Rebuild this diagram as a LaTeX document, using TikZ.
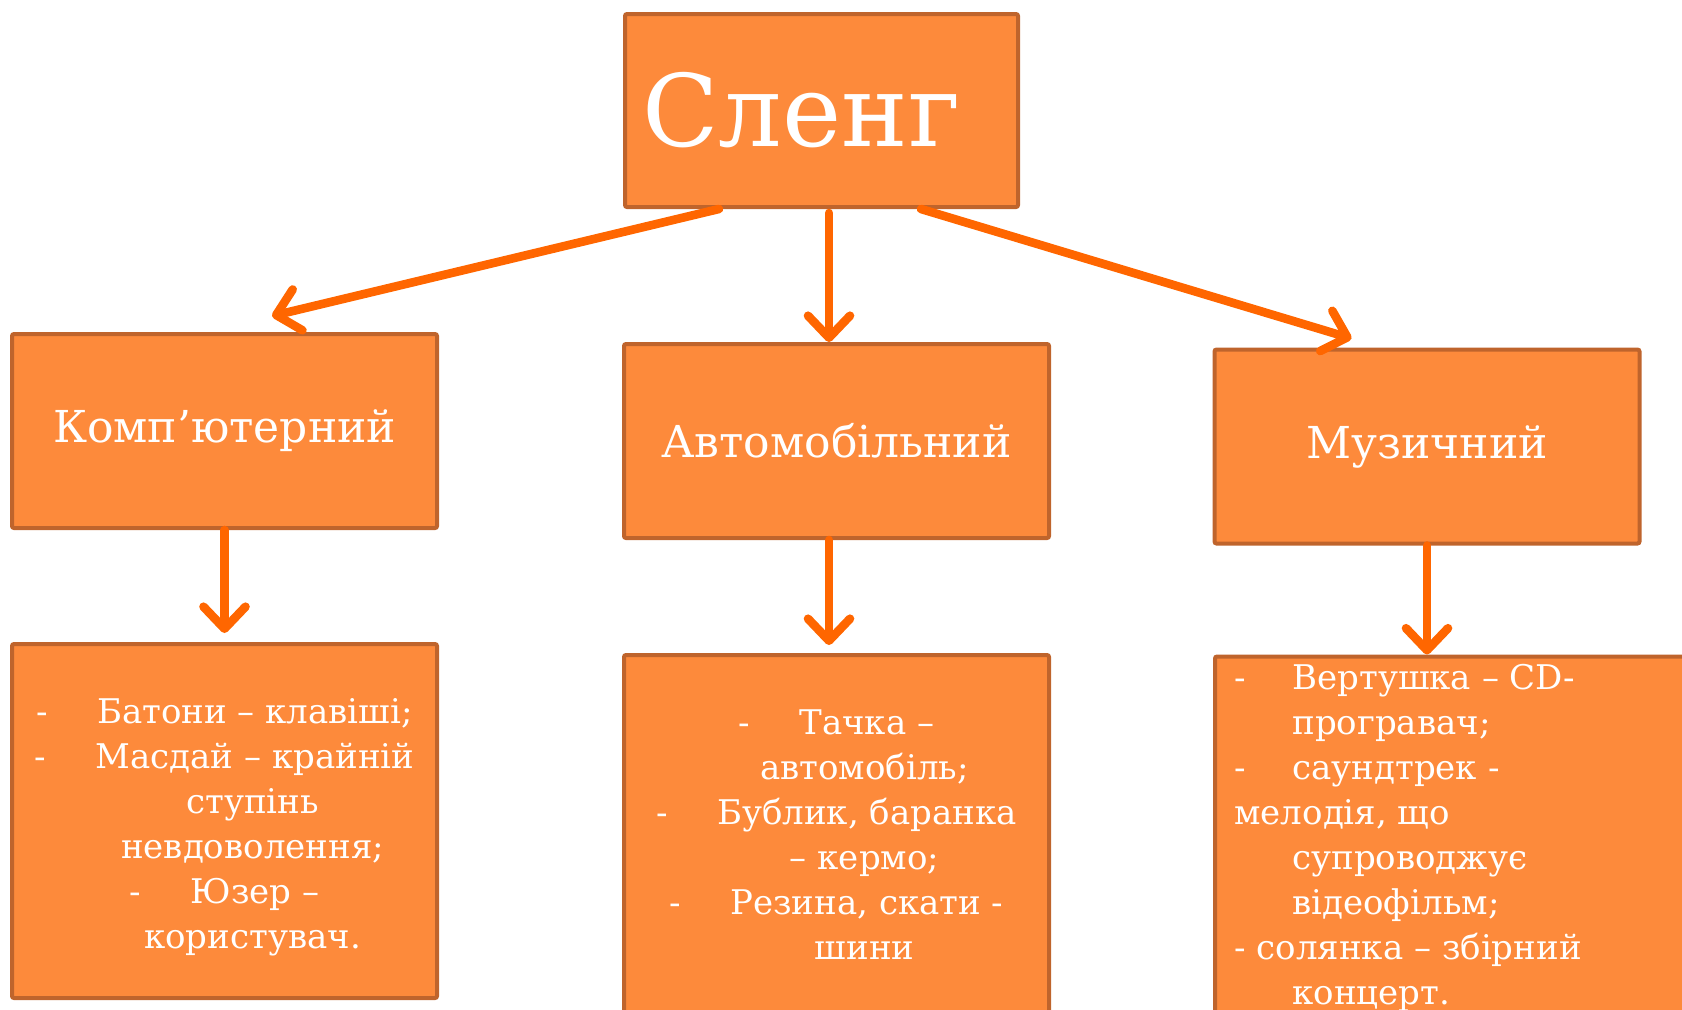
\documentclass[tikz,border=0pt]{standalone}
\usepackage{fontspec}
\setmainfont{DejaVu Serif}
\usetikzlibrary{arrows.meta,positioning}
\definecolor{boxfill}{HTML}{FD8A3B}
\definecolor{boxline}{HTML}{BF642C}
\definecolor{arrcol}{HTML}{FF6600}
\newcommand{\lidash}{\makebox[29pt][l]{-}}
\newcommand{\liind}{\hspace*{29pt}}
\tikzset{
	topbox/.style={rectangle, draw=boxline, fill=boxfill, line width=2pt, rounded corners=1pt,
		minimum width=196.5pt, minimum height=96.5pt, text=white, font=\fontsize{50}{60}\selectfont},
	catbox/.style={rectangle, draw=boxline, fill=boxfill, line width=2pt, rounded corners=1pt,
		minimum width=212.5pt, minimum height=97pt, text=white, font=\fontsize{22}{26}\selectfont},
	listbox/.style={rectangle, draw=boxline, fill=boxfill, line width=2pt, rounded corners=1pt,
		minimum width=212.5pt},
	listtext/.style={text=white, font=\fontsize{17}{22.5}\selectfont, inner sep=0pt},
	slarr/.style={-{Straight Barb[length=11pt,width=21pt,round]}, line width=4.3pt, draw=arrcol,
		line cap=round, line join=round}
}

\begin{document}
\begin{tikzpicture}[x=0.5pt, y=-0.5pt]
	\useasboundingbox (0,0) rectangle (1682,1009);
	\clip (0,0) rectangle (1682,1009);
	\node[topbox] (sl) at (821.5,110.5) {Сленг\hspace*{20pt}};
	\node[catbox] (comp) at (224.5,431) {Комп’ютерний};
	\node[catbox] (auto) at (836.5,441) {Автомобільний};
	\node[catbox] (mus) at (1427,446.5) {Музичний};
	\node[listbox, minimum height=177pt] (compl) at (224.5,821) {};
	\node[listbox, minimum height=190pt] (autol) at (836.5,845) {};
	\node[listbox, minimum width=252.5pt, minimum height=187pt] (musl) at (1467.5,843.5) {};
	% list texts
	\node[listtext, align=center, anchor=north] (complt) at ([yshift=-28pt]compl.north)
		{-\hspace{1.45em}Батони – клавіші;\\
		-\hspace{1.45em}Масдай – крайній\\
		\hspace*{28pt}ступінь\\
		\hspace*{28pt}невдоволення;\\
		-\hspace{1.45em}Юзер –\\
		\hspace*{28pt}користувач.};
	\node[listtext, align=center, anchor=north] (autolt) at ([yshift=-28pt]autol.north)
		{-\hspace{1.45em}Тачка –\\
		\hspace*{28pt}автомобіль;\\
		-\hspace{1.45em}Бублик, баранка\\
		\hspace*{28pt}– кермо;\\
		-\hspace{1.45em}Резина, скати -\\
		\hspace*{28pt}шини};
	\node[listtext, align=left, anchor=north west] (muslt) at ([xshift=10.5pt,yshift=-4.5pt]musl.north west)
		{\lidash Вертушка – CD-\\
		\liind програвач;\\
		\lidash саундтрек -\\
		мелодія, що\\
		\liind супроводжує\\
		\liind відеофільм;\\
		- солянка – збірний\\
		\liind концерт.};
	% arrows
	\draw[slarr] ([xshift=48pt]sl.south west) -- ([xshift=131pt,yshift=8pt]comp.north west);
	\draw[slarr] ([xshift=3.75pt,yshift=-2pt]sl.south) -- ([xshift=-3.75pt]auto.north);
	\draw[slarr] ([xshift=-49.5pt]sl.south east) -- ([xshift=69.5pt,yshift=4.5pt]mus.north west);
	\draw[slarr] (comp.south) -- ([yshift=4.5pt]compl.north);
	\draw[slarr] ([xshift=-3.75pt]auto.south) -- ([xshift=-3.75pt,yshift=4pt]autol.north);
	\draw[slarr] (mus.south) -- (mus.south |- musl.north);
\end{tikzpicture}
\end{document}
